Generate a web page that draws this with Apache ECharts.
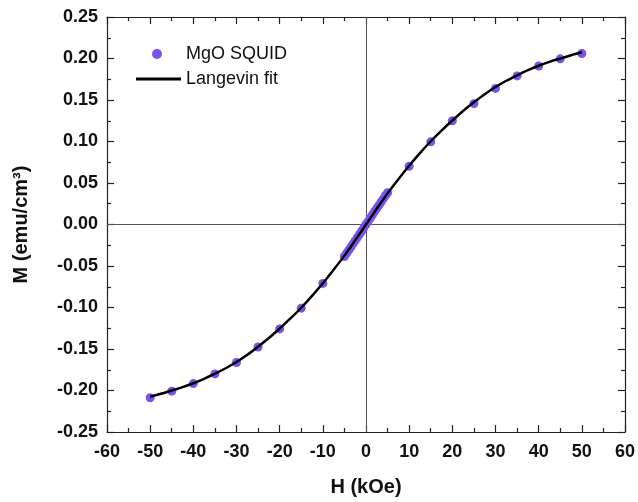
<!DOCTYPE html>
<html>
<head>
<meta charset="utf-8">
<script src="https://cdn.jsdelivr.net/npm/echarts@6/dist/echarts.min.js"></script>
<style>
  html, body { margin: 0; padding: 0; background: #fff; }
  #chart { width: 638px; height: 502px; }
</style>
</head>
<body>
<div id="chart"></div>
<script>
// Measured magnetisation of MgO (SQUID), field in kOe, M in emu/cm^3
const squidH = [-50, -45, -40, -35, -30, -25, -20, -15, -10,
  -5, -4.5, -4, -3.5, -3, -2.5, -2, -1.5, -1, -0.5, 0,
  0.5, 1, 1.5, 2, 2.5, 3, 3.5, 4, 4.5, 5,
  10, 15, 20, 25, 30, 35, 40, 45, 50];
const squidM = [-0.2087, -0.2008, -0.1917, -0.1800, -0.1663, -0.1476, -0.1258, -0.1008, -0.0710,
  -0.0385, -0.0347, -0.0309, -0.0271, -0.0233, -0.0195, -0.0156, -0.0117, -0.0078, -0.0039, 0.0000,
  0.0039, 0.0078, 0.0117, 0.0156, 0.0195, 0.0233, 0.0271, 0.0309, 0.0347, 0.0382,
  0.0702, 0.0996, 0.1250, 0.1456, 0.1640, 0.1790, 0.1910, 0.1996, 0.2060];

// Langevin fit curve
const fitH = [-50, -47.5, -45, -42.5, -40, -37.5, -35, -32.5, -30, -27.5, -25, -22.5,
  -20, -17.5, -15, -12.5, -10, -7.5, -5, -2.5, 0, 2.5, 5, 7.5, 10, 12.5, 15, 17.5,
  20, 22.5, 25, 27.5, 30, 32.5, 35, 37.5, 40, 42.5, 45, 47.5, 50];
const fitM = [-0.2075, -0.2040, -0.2000, -0.1960, -0.1913, -0.1860, -0.1798, -0.1732, -0.1657, -0.1570, -0.1472, -0.1368,
  -0.1253, -0.1132, -0.1003, -0.0860, -0.0708, -0.0545, -0.0375, -0.0190, 0.0000, 0.0190, 0.0375, 0.0545, 0.0708, 0.0860, 0.1003, 0.1132,
  0.1253, 0.1368, 0.1472, 0.1570, 0.1657, 0.1732, 0.1798, 0.1860, 0.1913, 0.1960, 0.2000, 0.2040, 0.2075];

const xTicks = { min: -60, max: 60, interval: 10 };
const yTicks = { min: -0.25, max: 0.25, interval: 0.05 };

const axisColor = '#222';
const fontFamily = 'Liberation Sans, Arial, sans-serif';
const labelFont = { fontFamily: fontFamily, fontWeight: 'bold', fontSize: 18, color: '#111' };

function pairs(xs, ys) { return xs.map((x, i) => [x, ys[i]]); }

const chart = echarts.init(document.getElementById('chart'), null, { renderer: 'canvas' });

// frame axes: inward major ticks plus one minor tick between majors
function tickStyle() {
  return {
    axisLine: { show: true, onZero: false, lineStyle: { color: axisColor, width: 1.2 } },
    axisTick: { show: true, inside: true, length: 7, lineStyle: { color: axisColor, width: 1.2 } },
    minorTick: { show: true, splitNumber: 2, length: 4, lineStyle: { color: axisColor, width: 1.2 } },
    splitLine: { show: false }
  };
}

chart.setOption({
  animation: false,
  backgroundColor: '#fff',
  grid: { left: 107, right: 11, top: 17, bottom: 65, containLabel: false },
  legend: [
    {
      left: 152, top: 45, padding: 0, orient: 'vertical',
      itemWidth: 10, itemHeight: 10,
      data: [{ name: 'MgO SQUID', icon: 'circle' }],
      textStyle: { fontFamily: fontFamily, fontSize: 18, color: '#111', padding: [0, 0, 0, 19] }
    },
    {
      left: 136, top: 70, padding: 0, orient: 'vertical',
      itemWidth: 45, itemHeight: 3,
      data: [{ name: 'Langevin fit', icon: 'rect' }],
      textStyle: { fontFamily: fontFamily, fontSize: 18, color: '#111' }
    }
  ],
  xAxis: [
    Object.assign({
      type: 'value', position: 'bottom',
      min: xTicks.min, max: xTicks.max, interval: xTicks.interval,
      name: 'H (kOe)', nameLocation: 'middle', nameGap: 45,
      nameTextStyle: Object.assign({}, labelFont, { fontSize: 20 }),
      axisLabel: Object.assign({ margin: 11 }, labelFont)
    }, tickStyle()),
    Object.assign({
      type: 'value', position: 'top',
      min: xTicks.min, max: xTicks.max, interval: xTicks.interval,
      axisLabel: { show: false }
    }, tickStyle())
  ],
  yAxis: [
    Object.assign({
      type: 'value', position: 'left',
      min: yTicks.min, max: yTicks.max, interval: yTicks.interval,
      name: 'M (emu/cm³)', nameLocation: 'middle', nameGap: 76,
      nameTextStyle: Object.assign({}, labelFont, { fontSize: 20 }),
      axisLabel: Object.assign({ margin: 9, formatter: v => v.toFixed(2) }, labelFont)
    }, tickStyle()),
    Object.assign({
      type: 'value', position: 'right',
      min: yTicks.min, max: yTicks.max, interval: yTicks.interval,
      axisLabel: { show: false }
    }, tickStyle())
  ],
  series: [
    {
      name: 'MgO SQUID',
      type: 'scatter',
      data: pairs(squidH, squidM),
      symbol: 'circle',
      symbolSize: 9,
      itemStyle: { color: '#7b52ee', opacity: 1 },
      z: 3,
      markLine: {
        silent: true, symbol: 'none', animation: false,
        label: { show: false },
        lineStyle: { color: '#555', width: 1, type: 'solid' },
        data: [{ xAxis: 0 }, { yAxis: 0 }],
        z: 1
      }
    },
    {
      name: 'Langevin fit',
      type: 'line',
      data: pairs(fitH, fitM),
      smooth: 0.3,
      showSymbol: false,
      symbol: 'none',
      lineStyle: { color: '#000', width: 2.5 },
      itemStyle: { color: '#000' },
      z: 4
    }
  ]
});
</script>
</body>
</html>
